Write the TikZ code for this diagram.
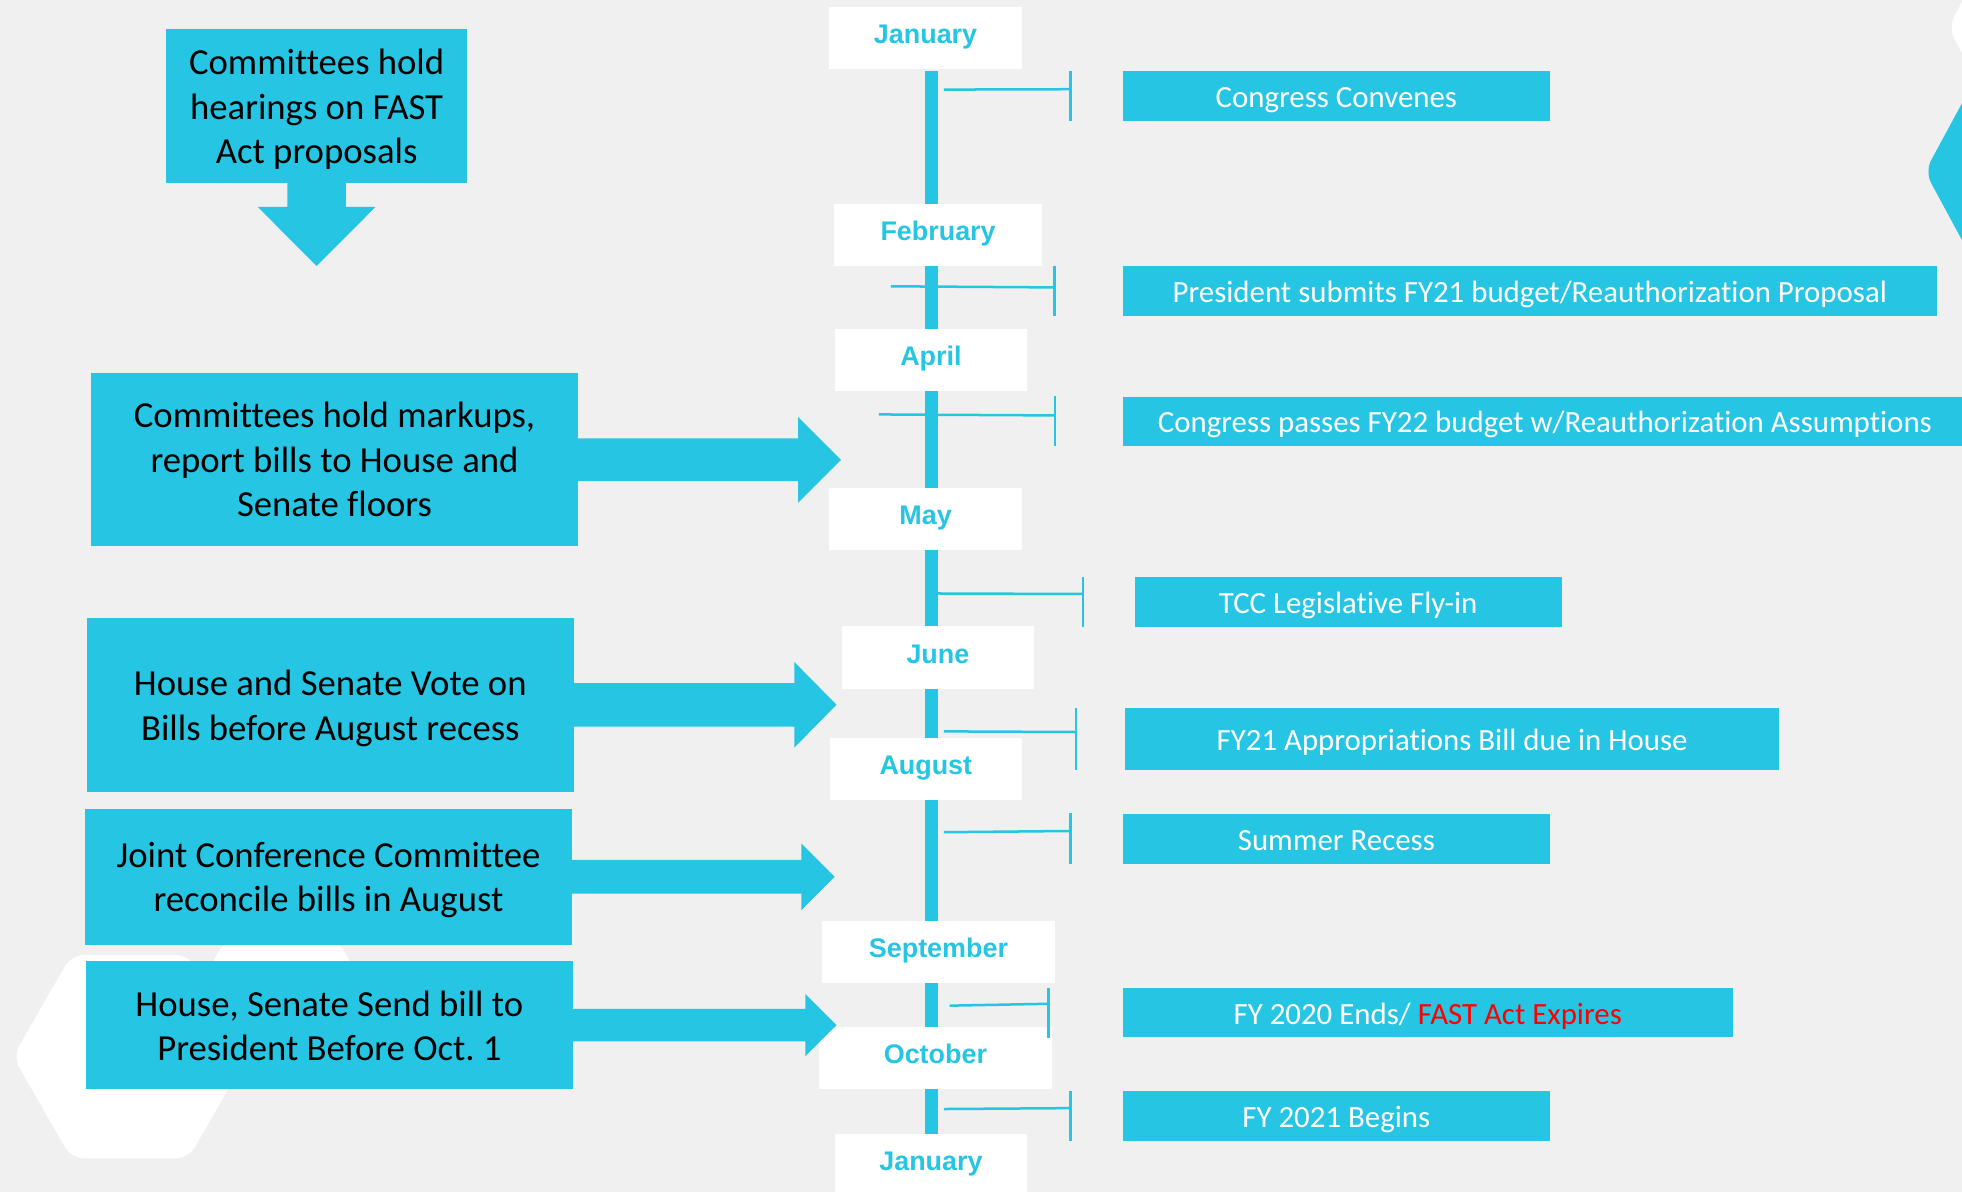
\documentclass[tikz,border=0pt]{standalone}
\usepackage{fontspec}
\setmainfont{Carlito}[Ligatures=NoCommon]
\newfontfamily\monthfont{Liberation Sans}
\usetikzlibrary{calc,fit}
\definecolor{cy}{RGB}{38,197,227}
\definecolor{bg}{RGB}{240,240,240}
\definecolor{fastred}{RGB}{255,0,0}
\newcommand\blockarrow[5]{% node, head-base offset, tip offset, shaft half, head half
  \fill[cy] ($(#1.east)+(-1,-#4)$) -- ($(#1.east)+(#2,-#4)$) -- ($(#1.east)+(#2,-#5)$)
    -- ($(#1.east)+(#3,0)$) -- ($(#1.east)+(#2,#5)$) -- ($(#1.east)+(#2,#4)$)
    -- ($(#1.east)+(-1,#4)$) -- cycle;}
\begin{document}
\frenchspacing
\begin{tikzpicture}[x=0.6pt,y=-0.6pt,
  boxfill/.style={fill=cy, inner sep=0pt, draw=none},
  lefttext/.style={font=\fontsize{17.6}{21.3}\selectfont, text=black, align=center},
  evtext/.style={font=\fontsize{14.8}{17}\selectfont, text=white, text height=0.644em, text depth=0pt, yshift=-2.4pt},
  monthbox/.style={fill=white, inner sep=0pt, draw=none},
  monthtext/.style={font=\monthfont\bfseries\fontsize{12.9}{15}\selectfont, text=cy, text height=0.716em, text depth=0pt, yshift=0.9pt},
  tick/.style={draw=cy, line width=1.2pt},
  timeline/.style={draw=cy, line width=5.9pt},
  hexwhite/.style={fill=white, rounded corners=6pt},
  hexcyan/.style={fill=cy, rounded corners=6pt},
]
\clip (0,0) rectangle (1568,952.6);
\fill[bg] (0,0) rectangle (1568,952.6);

% decorative hexagons
\fill[hexwhite] (10.4,844.5) -- (57.1,763.2) -- (150.6,763.2) -- (197.4,844.5) -- (150.6,925.7) -- (57.1,925.7) -- cycle;
\fill[hexwhite] (150,805) -- (180,751) -- (270,751) -- (300,805) -- (270,860) -- (180,860) -- cycle;
\fill[hexcyan] (1538.4,137.2) -- (1578.4,63.2) -- (1660,63.2) -- (1700,137.2) -- (1660,211.2) -- (1578.4,211.2) -- cycle;
\fill[hexwhite] (1557,22) -- (1587,-33.5) -- (1660,-33.5) -- (1690,22) -- (1660,77.5) -- (1587,77.5) -- cycle;

% timeline
\coordinate (tltop) at (744.4,57);
\coordinate (tlbot) at (744.4,907);
\draw[timeline] (tltop) -- (tlbot);

% month boxes
\node[monthbox, fit={(662.6,5.5)(816.8,55)}, label={[monthtext]center:January}] (jan) {};
\node[monthbox, fit={(666.7,163)(832.7,212.3)}, label={[monthtext]center:February}] (feb) {};
\node[monthbox, fit={(667.2,263)(820.8,312.3)}, label={[monthtext]center:April}] (apr) {};
\node[monthbox, fit={(662.6,390)(816.8,439.5)}, label={[monthtext]center:May}] (may) {};
\node[monthbox, fit={(672.8,500.4)(826.3,550.7)}, label={[monthtext]center:June}] (jun) {};
\node[monthbox, fit={(663,589.6)(816.8,639.3)}, label={[monthtext]center:August}] (aug) {};
\node[monthbox, fit={(657,736)(843,785.4)}, label={[monthtext]center:September}] (sep) {};
\node[monthbox, fit={(654.4,820.7)(840.7,870.3)}, label={[monthtext]center:October}] (oct) {};
\node[monthbox, fit={(667.2,906.2)(820.8,956.2)}, label={[monthtext]center:January}] (jan2) {};

% event boxes
\node[boxfill, fit={(897.3,56.9)(1238.6,96.7)}, label={[evtext]center:Congress Convenes}] (e1) {};
\node[boxfill, fit={(897.3,212.6)(1547.9,252.3)}, label={[evtext]center:President submits FY21 budget/Reauthorization Proposal}] (e2) {};
\node[boxfill, fit={(897.3,316.9)(1572,356.3)}, label={[evtext]center:Congress passes FY22 budget w/Reauthorization Assumptions}] (e3) {};
\node[boxfill, fit={(906.8,461.2)(1248,501)}, label={[evtext]center:TCC Legislative Fly-in}] (e4) {};
\node[boxfill, fit={(899.3,566)(1421.8,615.1)}, label={[evtext]center:FY21 Appropriations Bill due in House}] (e5) {};
\node[boxfill, fit={(897.3,650.4)(1238.6,690.5)}, label={[evtext]center:Summer Recess}] (e6) {};
\node[boxfill, fit={(897.3,789.6)(1384.7,829)}, label={[evtext]center:{FY 2020 Ends/ \textcolor{fastred}{FAST Act Expires}}}] (e7) {};
\node[boxfill, fit={(897.3,871.9)(1238.6,911.5)}, label={[evtext]center:FY 2021 Begins}] (e8) {};

% ticks: line from timeline to bracket bar
\coordinate (t1a) at (754.3,71.6);  \coordinate (t1b) at (855.7,71.3);
\coordinate (t2a) at (712,228.8);   \coordinate (t2b) at (842.7,229.7);
\coordinate (t3a) at (702.3,331.2); \coordinate (t3b) at (843.2,332);
\coordinate (t4a) at (749.4,474.3); \coordinate (t4b) at (865.7,474.7);
\coordinate (t5a) at (754.3,584.5); \coordinate (t5b) at (859.8,585);
\coordinate (t6a) at (754.3,665.1); \coordinate (t6b) at (855.7,664.1);
\coordinate (t7a) at (758.9,803.7); \coordinate (t7b) at (837.8,802.2);
\coordinate (t8a) at (754.3,886.3); \coordinate (t8b) at (855.7,885.6);
\foreach \i in {1,...,8}{
  \draw[tick] (t\i a) -- (t\i b);
  \draw[tick] (t\i b |- e\i.north) -- (t\i b |- e\i.south);
}

% left boxes
\node[boxfill, fit={(132.5,23.2)(373.6,145.9)}, label={[lefttext, yshift=-1.8pt]center:{Committees hold\\hearings on FAST\\Act proposals}}] (A) {};
\node[boxfill, fit={(72.9,298.2)(461.8,436.7)}, label={[lefttext]center:{Committees hold markups,\\report bills to House and\\Senate floors}}] (B) {};
\node[boxfill, fit={(69.3,493.9)(458.7,632.6)}, label={[lefttext, yshift=-1.8pt]center:{House and Senate Vote on\\Bills before August recess}}] (C) {};
\node[boxfill, fit={(67.8,646.4)(457.2,755)}, label={[lefttext, yshift=-1.5pt]center:{Joint Conference Committee\\reconcile bills in August}}] (D) {};
\node[boxfill, fit={(68.8,768.2)(457.7,870.3)}, label={[lefttext, yshift=-0.4pt]center:{House, Senate Send bill to\\President Before Oct.\ 1}}] (E) {};

% block arrows
\fill[cy] ($(A.south)+(-23.3,-1)$) -- ($(A.south)+(-23.3,19.1)$) -- ($(A.south)+(-47.1,19.1)$)
  -- ($(A.south)+(0,66.4)$) -- ($(A.south)+(47.1,19.1)$) -- ($(A.south)+(23.3,19.1)$)
  -- ($(A.south)+(23.3,-1)$) -- cycle;
\blockarrow{B}{175.8}{210}{17.1}{34.2}
\blockarrow{C}{175.8}{209.5}{17.35}{34.2}
\blockarrow{D}{183}{209.5}{13.5}{26.55}
\blockarrow{E}{185.5}{210.4}{12.9}{25}
\end{tikzpicture}
\end{document}
